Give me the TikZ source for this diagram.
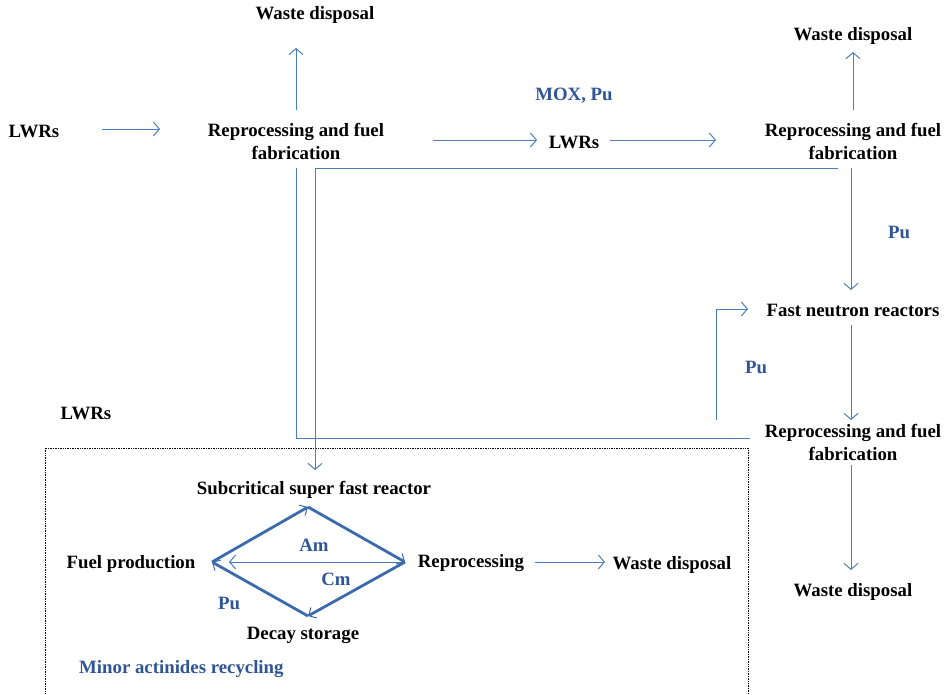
\documentclass[tikz,border=0pt]{standalone}
\usepackage{fontspec}
\setmainfont{Liberation Serif}
\usetikzlibrary{arrows.meta}
\definecolor{arr}{HTML}{4A7EBB}
\definecolor{lbl}{HTML}{2F5597}
\definecolor{dia}{HTML}{3C6AAA}
\begin{document}
\begin{tikzpicture}[x=1pt,y=-1pt,
  txt/.style={font=\fontsize{18.8}{23}\selectfont\bfseries, align=center, inner sep=0pt},
  btxt/.style={txt, text=lbl},
  flow/.style={draw=arr, line width=1pt, -{Straight Barb[length=6pt,width=14pt]}},
  plain/.style={draw=arr, line width=1pt},
  dedge/.style={draw=dia, line width=2.8pt, -{Straight Barb[length=6pt,width=12pt,line width=1pt]}},
  box/.style={draw=black, densely dotted, line width=0.7pt}]
\useasboundingbox (0,0) rectangle (947,694);
% text nodes
\node[txt] (lwr1) at (34,131) {LWRs};
\node[txt] (rp1) at (296,141) {Reprocessing and fuel\\fabrication};
\node[txt] (wd1) at (315,15) {Waste disposal};
\node[btxt] (mox) at (574,96) {MOX, Pu};
\node[txt] (lwr2) at (574,142) {LWRs};
\node[txt] (rp2) at (853,141) {Reprocessing and fuel\\fabrication};
\node[txt] (wd2) at (853,36) {Waste disposal};
\node[btxt] (pu1) at (899,232) {Pu};
\node[txt] (fnr) at (853,310) {Fast neutron reactors};
\node[btxt] (pu2) at (756,367) {Pu};
\node[txt] (rp3) at (853,442) {Reprocessing and fuel\\fabrication};
\node[txt] (wd3) at (853,592) {Waste disposal};
\node[txt] (lwr3) at (86,413) {LWRs};
\node[txt] (ssf) at (314,490) {Subcritical super fast reactor};
\node[txt] (fp) at (131,564) {Fuel production};
\node[txt] (rep) at (471,563) {Reprocessing};
\node[txt] (wd4) at (672,565) {Waste disposal};
\node[txt] (ds) at (303,635) {Decay storage};
\node[btxt] (am) at (314,545) {Am};
\node[btxt] (cm) at (336,579) {Cm};
\node[btxt] (pu3) at (229,603) {Pu};
\node[btxt, anchor=west] (mar) at (79,669) {Minor actinides recycling};
% coordinates
\coordinate (a1s) at (102,129); \coordinate (a1e) at (160,129);
\coordinate (a2s) at (296,110); \coordinate (a2e) at (296,48);
\coordinate (a3s) at (433,140); \coordinate (a3e) at (537,140);
\coordinate (a4s) at (610,140); \coordinate (a4e) at (716,140);
\coordinate (a5s) at (853,110); \coordinate (a5e) at (853,52);
\coordinate (b1s) at (838,168); \coordinate (b1m) at (315,168); \coordinate (b1e) at (315,470);
\coordinate (a6s) at (851,168); \coordinate (a6e) at (851,290);
\coordinate (b2s) at (716,420); \coordinate (b2e) at (748,309);
\coordinate (a7s) at (851,325); \coordinate (a7e) at (851,420);
\coordinate (b3s) at (296,168); \coordinate (b3e) at (750,438);
\coordinate (a8s) at (851,465); \coordinate (a8e) at (851,570);
\coordinate (a9s) at (535,562); \coordinate (a9e) at (605,562);
\coordinate (dT) at (308,507); \coordinate (dL) at (212,562);
\coordinate (dR) at (405,562); \coordinate (dB) at (308,616);
\coordinate (hS) at (403,562); \coordinate (hE) at (229,562);
% dotted box
\draw[box] (45,448) rectangle (748,720);
% connectors
\draw[flow] (a1s) -- (a1e);
\draw[flow] (a2s) -- (a2e);
\draw[flow] (a3s) -- (a3e);
\draw[flow] (a4s) -- (a4e);
\draw[flow] (a5s) -- (a5e);
\draw[flow] (b1s) -- (b1m) -- (b1e);
\draw[flow] (a6s) -- (a6e);
\draw[flow] (b2s) |- (b2e);
\draw[flow] (a7s) -- (a7e);
\draw[plain] (b3s) |- (b3e);
\draw[flow] (a8s) -- (a8e);
\draw[flow] (a9s) -- (a9e);
\draw[flow] (hS) -- (hE);
\draw[dedge] (dL) -- (dT);
\draw[dedge] (dT) -- (dR);
\draw[dedge] (dR) -- (dB);
\draw[dedge] (dB) -- (dL);
\end{tikzpicture}
\end{document}
